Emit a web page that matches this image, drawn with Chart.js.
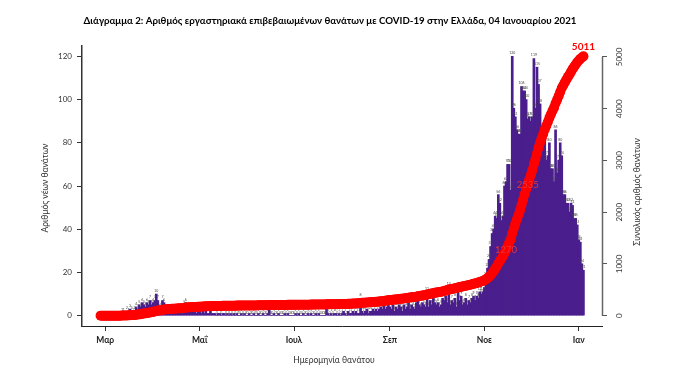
<!DOCTYPE html>
<html>
<head>
<meta charset="utf-8">
<script src="https://cdn.jsdelivr.net/npm/chart.js@4.4.1/dist/chart.umd.min.js"></script>
<style>
html, body { margin: 0; padding: 0; background: #fff; }
#wrap { width: 683px; height: 369px; }
</style>
</head>
<body>
<div id="wrap"><canvas id="deathsChart" width="683" height="369"></canvas></div>
<script>
// Daily deaths by date of death, from 27 Feb 2020 (day -3, with 1 Mar = day 0)
const firstDay = -3;
const deathsFeb = [0, 0, 0];
const deathsMar = [0, 0, 0, 0, 0, 0, 0, 0, 0, 0, 0, 1, 1, 0, 2, 1, 3, 2, 1, 2, 4, 3, 5, 4, 6, 5, 4, 6, 5, 7, 5];
const deathsApr = [6, 7, 10, 7, 3, 4, 7, 6, 3, 3, 3, 2, 3, 2, 2, 3, 1, 2, 2, 1, 5, 6, 3, 2, 2, 2, 2, 2, 1, 2];
const deathsMay = [2, 1, 2, 1, 2, 1, 1, 2, 1, 1, 1, 0, 1, 1, 0, 1, 1, 0, 1, 0, 1, 0, 1, 0, 1, 0, 0, 1, 0, 1, 0];
const deathsJun = [0, 1, 0, 0, 1, 0, 0, 1, 0, 0, 1, 0, 0, 1, 3, 0, 0, 1, 0, 0, 1, 0, 0, 0, 1, 0, 1, 0, 0, 0];
const deathsJul = [0, 1, 0, 1, 0, 0, 1, 0, 0, 1, 0, 1, 0, 0, 1, 0, 1, 0, 0, 0, 0, 3, 1, 0, 1, 0, 1, 1, 0, 1, 0];
const deathsAug = [1, 2, 1, 0, 2, 1, 1, 2, 1, 2, 1, 1, 8, 2, 1, 2, 3, 1, 2, 2, 3, 2, 3, 2, 3, 4, 3, 5, 3, 4, 5];
const deathsSep = [4, 3, 5, 2, 4, 3, 5, 4, 2, 5, 3, 4, 6, 3, 5, 4, 3, 6, 8, 5, 4, 6, 5, 4, 11, 4, 7, 5, 8, 6];
const deathsOct = [5, 6, 4, 5, 8, 7, 9, 6, 13, 5, 7, 6, 8, 4, 11, 7, 9, 5, 6, 8, 5, 7, 6, 8, 9, 7, 9, 8, 11, 10, 11];
const deathsNov = [13, 18, 22, 26, 32, 38, 40, 46, 45, 56, 52, 44, 46, 60, 62, 70, 70, 58, 120, 96, 92, 86, 84, 84, 106, 104, 104, 100, 91, 92];
const deathsDec = [90, 92, 119, 96, 115, 107, 98, 82, 84, 86, 72, 74, 80, 68, 68, 62, 86, 66, 72, 80, 74, 56, 56, 52, 52, 48, 52, 51, 45, 45, 42];
const deathsJan = [35, 34, 24, 21];

// x axis ticks (day offsets from 1 Mar 2020)
const monthTickDays = [0, 61, 122, 184, 245, 306];
const monthTickLabels = ['Μαρ', 'Μαΐ', 'Ιουλ', 'Σεπ', 'Νοε', 'Ιαν'];
const leftTicks = [0, 20, 40, 60, 80, 100, 120];
const rightTicks = [0, 1000, 2000, 3000, 4000, 5000];
// cumulative totals written on the red curve (15 Nov, 29 Nov, 4 Jan)
const cumLabelDays = [259, 273, 309];

const daily = [].concat(deathsFeb, deathsMar, deathsApr, deathsMay, deathsJun, deathsJul,
    deathsAug, deathsSep, deathsOct, deathsNov, deathsDec, deathsJan);

let running = 0;
const barPoints = daily.map((v, i) => ({ x: firstDay + i, y: v }));
const cumPoints = daily.map((v, i) => {
    running += v;
    return { x: firstDay + i, y: running };
});

const FONT = 'Lato, "Open Sans", sans-serif';
const PURPLE = '#4a1e8c';
const RED = '#ff0000';

const extras = {
    id: 'extras',
    afterDatasetDraw(chart, args) {
        // tiny value labels over each bar
        if (args.index !== 0) return;
        const ctx = chart.ctx;
        const xs = chart.scales.x, ys = chart.scales.y;
        ctx.save();
        ctx.font = '3.5px ' + FONT;
        ctx.fillStyle = '#444';
        ctx.textAlign = 'center';
        ctx.textBaseline = 'bottom';
        barPoints.forEach(p => {
            ctx.fillText(String(p.y), xs.getPixelForValue(p.x), ys.getPixelForValue(p.y) - 1.5);
        });
        ctx.restore();
    },
    afterDraw(chart) {
        const ctx = chart.ctx;
        const area = chart.chartArea;
        const xs = chart.scales.x, y2 = chart.scales.y2;
        ctx.save();

        // right axis line, from 0 to 5000 only
        ctx.strokeStyle = '#666';
        ctx.lineWidth = 1.5;
        ctx.beginPath();
        ctx.moveTo(area.right + 0.5, y2.getPixelForValue(rightTicks[0]));
        ctx.lineTo(area.right + 0.5, y2.getPixelForValue(rightTicks[rightTicks.length - 1]));
        ctx.stroke();

        // right tick labels, rotated
        ctx.fillStyle = '#333';
        ctx.font = '8px ' + FONT;
        ctx.textAlign = 'center';
        ctx.textBaseline = 'middle';
        rightTicks.forEach(t => {
            ctx.save();
            ctx.translate(area.right + 17, y2.getPixelForValue(t));
            ctx.rotate(-Math.PI / 2);
            ctx.fillText(String(t), 0, 0);
            ctx.restore();
        });

        // axis titles
        ctx.font = '8.5px ' + FONT;
        ctx.save();
        ctx.translate(45, 188);
        ctx.rotate(-Math.PI / 2);
        ctx.fillText('Αριθμός νέων θανάτων', 0, 0);
        ctx.restore();
        ctx.save();
        ctx.translate(637, 192);
        ctx.rotate(-Math.PI / 2);
        ctx.fillText('Συνολικός αριθμός θανάτων', 0, 0);
        ctx.restore();
        ctx.fillText('Ημερομηνία θανάτου', 334, 360);

        // chart title
        ctx.fillStyle = '#000';
        ctx.font = 'bold 9.7px ' + FONT;
        ctx.fillText('Διάγραμμα 2: Αριθμός εργαστηριακά επιβεβαιωμένων θανάτων με COVID-19 στην Ελλάδα, 04 Ιανουαρίου 2021', 330, 21);

        // cumulative labels on the red curve
        cumLabelDays.forEach((d, k) => {
            const pt = cumPoints[d - firstDay];
            const px = xs.getPixelForValue(pt.x);
            const py = y2.getPixelForValue(pt.y);
            if (k === cumLabelDays.length - 1) {
                ctx.fillStyle = RED;
                ctx.font = 'bold 10px ' + FONT;
                ctx.fillText(String(pt.y), px, py - 10);
            } else {
                ctx.fillStyle = '#e8333a';
                ctx.font = '9.5px ' + FONT;
                ctx.fillText(String(pt.y), px, py);
            }
        });
        ctx.restore();
    }
};

const ctx = document.getElementById('deathsChart').getContext('2d');
new Chart(ctx, {
    type: 'bar',
    data: {
        datasets: [
            {
                type: 'bar',
                data: barPoints,
                backgroundColor: PURPLE,
                borderWidth: 0,
                barThickness: 2,
                yAxisID: 'y',
                order: 2
            },
            {
                type: 'line',
                data: cumPoints,
                borderColor: RED,
                borderWidth: 9,
                pointRadius: 5,
                pointBackgroundColor: RED,
                pointBorderWidth: 0,
                tension: 0,
                yAxisID: 'y2',
                order: 1
            }
        ]
    },
    options: {
        responsive: false,
        devicePixelRatio: 1,
        animation: false,
        layout: { padding: { top: 46, left: 0, right: 0, bottom: 0 } },
        plugins: {
            legend: { display: false },
            tooltip: { enabled: false },
            title: { display: false }
        },
        scales: {
            x: {
                type: 'linear',
                offset: false,
                min: -15,
                max: 321,
                afterBuildTicks: s => { s.ticks = monthTickDays.map(v => ({ value: v })); },
                afterFit: s => { s.height = 43; },
                ticks: {
                    callback: v => monthTickLabels[monthTickDays.indexOf(v)],
                    font: { family: FONT, size: 8.5, weight: 'bold' },
                    color: '#222',
                    padding: 4,
                    maxRotation: 0,
                    autoSkip: false
                },
                grid: { offset: false, drawOnChartArea: false, tickLength: 5, color: '#333' },
                border: { display: true, color: '#222', width: 1 }
            },
            y: {
                position: 'left',
                min: -4.8,
                max: 124.8,
                afterBuildTicks: s => { s.ticks = leftTicks.map(v => ({ value: v })); },
                afterFit: s => { s.width = 82; },
                ticks: {
                    font: { family: FONT, size: 8 },
                    color: '#333',
                    padding: 5
                },
                grid: { drawOnChartArea: false, tickLength: 5, color: '#333' },
                border: { display: true, color: '#333', width: 1.5 }
            },
            y2: {
                position: 'right',
                min: -200.4,
                max: 5211.4,
                afterBuildTicks: s => { s.ticks = rightTicks.map(v => ({ value: v })); },
                afterFit: s => { s.width = 81; },
                ticks: { display: false },
                grid: { drawOnChartArea: false, tickLength: 5, color: '#555' },
                border: { display: false }
            }
        }
    },
    plugins: [extras]
});
</script>
</body>
</html>
